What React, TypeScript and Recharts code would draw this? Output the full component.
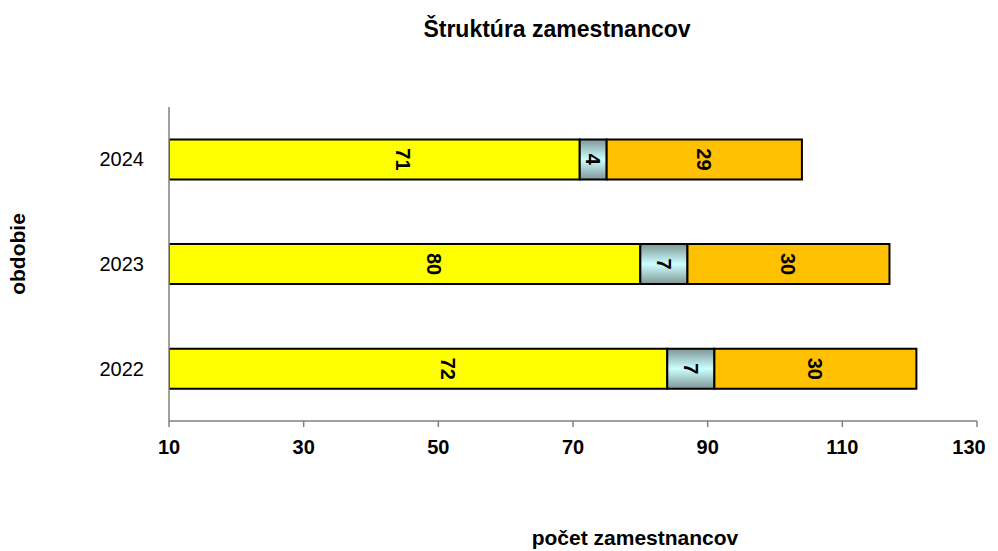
import React from 'react';
import { BarChart, Bar, XAxis, YAxis, LabelList } from 'recharts';

// ---- data ----
const years = ['2024', '2023', '2022'];
const yellowValues = [71, 80, 84];
const yellowLabels = ['71', '80', '72'];
const grayValues = [4, 7, 7];
const orangeValues = [29, 30, 30];
const xTicks = [10, 30, 50, 70, 90, 110, 130];
const X_DOMAIN: [number, number] = [10, 130];

const title = 'Štruktúra zamestnancov';
const xTitle = 'počet zamestnancov';
const yTitle = 'obdobie';

const data = years.map((y, i) => ({
  year: y,
  yellow: yellowValues[i],
  gray: grayValues[i],
  orange: orangeValues[i],
}));

const FONT = '"Liberation Sans", Arial, Helvetica, sans-serif';

const makeLabel = (kind: string) => (props: any) => {
  const vb = props.viewBox || {};
  let x0 = Number(props.x ?? vb.x);
  let w = Number(props.width ?? vb.width);
  const y0 = Number(props.y ?? vb.y);
  const h = Number(props.height ?? vb.height);
  const index = props.index;
  let text = String(props.value);
  if (kind === 'yellow') {
    const v = yellowValues[index];
    const clipStart = x0 + (X_DOMAIN[0] * w) / v;
    w = x0 + w - clipStart;
    x0 = clipStart;
    text = yellowLabels[index];
  } else if (kind === 'gray') {
    text = String(grayValues[index]);
  } else {
    text = String(orangeValues[index]);
  }
  const cx = x0 + w / 2;
  const cy = y0 + h / 2;
  return (
    <text
      x={cx}
      y={cy}
      transform={`rotate(90, ${cx}, ${cy})`}
      textAnchor="middle"
      dominantBaseline="central"
      fontFamily={FONT}
      fontWeight="bold"
      fontSize={20}
      fill="#000"
    >
      {text}
    </text>
  );
};

const XTick = (props: any) => {
  const { x, y, payload } = props;
  const tx = Math.min(Number(x), 969);
  return (
    <text
      x={tx}
      y={Number(y)}
      dy={27}
      textAnchor="middle"
      fontFamily={FONT}
      fontWeight="bold"
      fontSize={20}
      fill="#000"
    >
      {payload.value}
    </text>
  );
};

export default function App() {
  return (
    <div style={{ position: 'absolute', left: 0, top: 0, width: 998, height: 551, background: '#fff' }}>
      <BarChart
        width={998}
        height={551}
        data={data}
        layout="vertical"
        margin={{ top: 107, right: 21, bottom: 0, left: 0 }}
        barCategoryGap="31%"
      >
        <defs>
          <linearGradient id="grayGrad" x1="0" y1="0" x2="0" y2="1">
            <stop offset="0%" stopColor="#7f9696" />
            <stop offset="50%" stopColor="#ccffff" />
            <stop offset="100%" stopColor="#7f9696" />
          </linearGradient>
        </defs>
        <XAxis
          type="number"
          domain={X_DOMAIN}
          ticks={xTicks}
          allowDataOverflow
          height={130}
          tickSize={6}
          tickMargin={0}
          axisLine={{ stroke: '#808080', strokeWidth: 1.5 }}
          tickLine={{ stroke: '#808080', strokeWidth: 1.5 }}
          tick={<XTick />}
          interval={0}
        />
        <YAxis
          type="category"
          dataKey="year"
          width={169}
          tickSize={0}
          tickMargin={25}
          tickLine={false}
          axisLine={{ stroke: '#808080', strokeWidth: 1.5 }}
          tick={{ fontFamily: FONT, fontSize: 20, fill: '#000' }}
        />
        <Bar dataKey="yellow" stackId="a" fill="#ffff00" stroke="#000" strokeWidth={2} isAnimationActive={false}>
          <LabelList dataKey="yellow" content={makeLabel('yellow')} />
        </Bar>
        <Bar dataKey="gray" stackId="a" fill="url(#grayGrad)" stroke="#000" strokeWidth={2} isAnimationActive={false}>
          <LabelList dataKey="gray" content={makeLabel('gray')} />
        </Bar>
        <Bar dataKey="orange" stackId="a" fill="#ffc000" stroke="#000" strokeWidth={2} isAnimationActive={false}>
          <LabelList dataKey="orange" content={makeLabel('orange')} />
        </Bar>
      </BarChart>
      <svg
        width={998}
        height={551}
        style={{ position: 'absolute', left: 0, top: 0, pointerEvents: 'none' }}
      >
        <text x={557} y={37} textAnchor="middle" fontFamily={FONT} fontWeight="bold" fontSize={23} fill="#000">
          {title}
        </text>
        <text x={635} y={545} textAnchor="middle" fontFamily={FONT} fontWeight="bold" fontSize={21} fill="#000">
          {xTitle}
        </text>
        <text
          x={25}
          y={254}
          transform="rotate(-90, 25, 254)"
          textAnchor="middle"
          fontFamily={FONT}
          fontWeight="bold"
          fontSize={21}
          fill="#000"
        >
          {yTitle}
        </text>
      </svg>
    </div>
  );
}
